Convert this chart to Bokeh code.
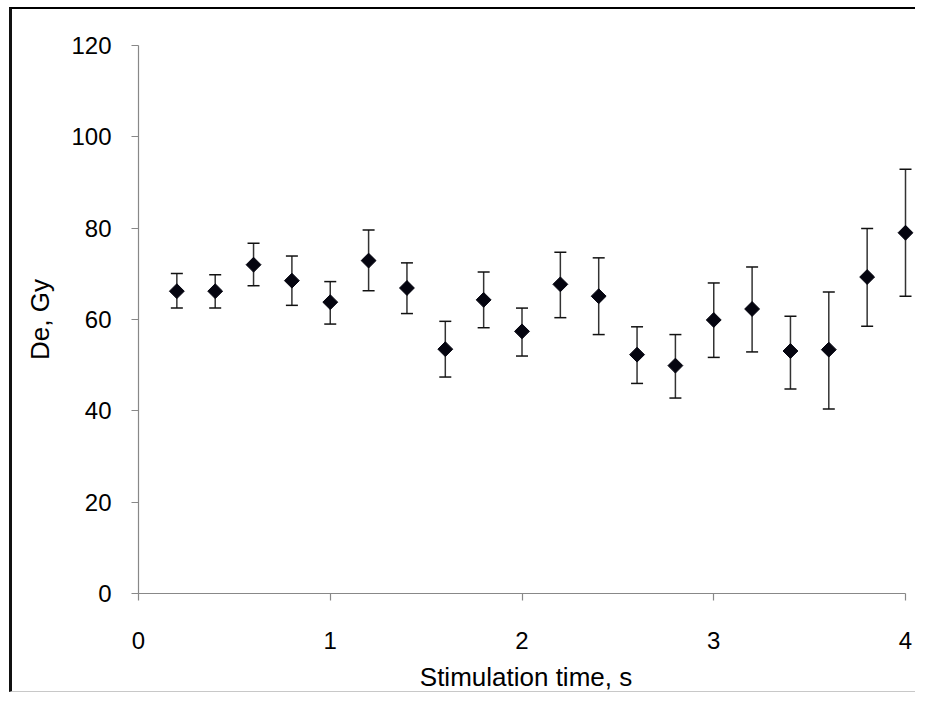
import math
from bokeh.plotting import figure
from bokeh.models import ColumnDataSource, Whisker, TeeHead, FixedTicker, Range1d
from bokeh.embed import file_html
from bokeh.resources import INLINE

# Data
stim_time = [0.2, 0.4, 0.6, 0.8, 1.0, 1.2, 1.4, 1.6, 1.8, 2.0,
             2.2, 2.4, 2.6, 2.8, 3.0, 3.2, 3.4, 3.6, 3.8, 4.0]
de_gy = [66.2, 66.2, 72.0, 68.5, 63.8, 72.9, 66.9, 53.5, 64.3, 57.4,
         67.7, 65.1, 52.3, 49.9, 59.9, 62.3, 53.1, 53.4, 69.3, 79.0]
de_upper = [70.1, 69.8, 76.7, 73.9, 68.3, 79.6, 72.4, 59.6, 70.4, 62.5,
            74.7, 73.5, 58.4, 56.7, 68.0, 71.5, 60.7, 66.0, 79.9, 92.9]
de_lower = [62.5, 62.5, 67.4, 63.1, 59.0, 66.3, 61.3, 47.4, 58.2, 52.0,
            60.4, 56.7, 46.0, 42.8, 51.7, 52.9, 44.8, 40.4, 58.5, 65.1]
x_ticks = [0, 1, 2, 3, 4]
y_ticks = [0, 20, 40, 60, 80, 100, 120]

src = ColumnDataSource(dict(x=stim_time, y=de_gy, up=de_upper, lo=de_lower))

p = figure(width=906, height=685, output_backend="svg", toolbar_location=None,
           x_range=Range1d(0, 4.0417), y_range=Range1d(0, 120),
           min_border_left=126, min_border_right=5, min_border_top=36, min_border_bottom=101,
           styles={"margin-top": "7px", "margin-left": "9px",
                   "border-top": "2px solid #000", "border-left": "3px solid #111",
                   "border-bottom": "1px solid #c8c8c8"})
p.outline_line_color = None
p.grid.visible = False
p.background_fill_color = "white"
p.border_fill_color = "white"

whisk = Whisker(source=src, base="x", upper="up", lower="lo",
                line_color="#333333", line_width=1.5,
                upper_head=TeeHead(size=12, line_color="#111111", line_width=1.5),
                lower_head=TeeHead(size=12, line_color="#111111", line_width=1.5))
p.add_layout(whisk)

p.scatter("x", "y", source=src, marker="square", size=10.5, angle=math.pi / 4,
          fill_color="#050510", line_color="#050510")

for ax in (p.xaxis[0], p.yaxis[0]):
    ax.axis_line_color = "#888888"
    ax.axis_line_width = 1.2
    ax.major_tick_line_color = "#888888"
    ax.major_tick_line_width = 1.2
    ax.major_tick_in = 0
    ax.major_tick_out = 7
    ax.minor_tick_line_color = None
    ax.major_label_text_font = "Liberation Sans"
    ax.major_label_text_font_size = "24px"
    ax.major_label_text_color = "#000000"
    ax.axis_label_text_font = "Liberation Sans"
    ax.axis_label_text_font_size = "26px"
    ax.axis_label_text_font_style = "normal"
    ax.axis_label_text_color = "#000000"

p.xaxis.ticker = FixedTicker(ticks=x_ticks)
p.yaxis.ticker = FixedTicker(ticks=y_ticks)
p.xaxis.bounds = (0, 4)
p.yaxis.bounds = (0, 120)
p.xaxis.axis_label = "Stimulation time, s"
p.yaxis.axis_label = "De, Gy"
p.xaxis.major_label_standoff = 31
p.yaxis.major_label_standoff = 20
p.xaxis.axis_label_standoff = 10
p.yaxis.axis_label_standoff = 13

open("out.html", "w").write(file_html(p, INLINE))
